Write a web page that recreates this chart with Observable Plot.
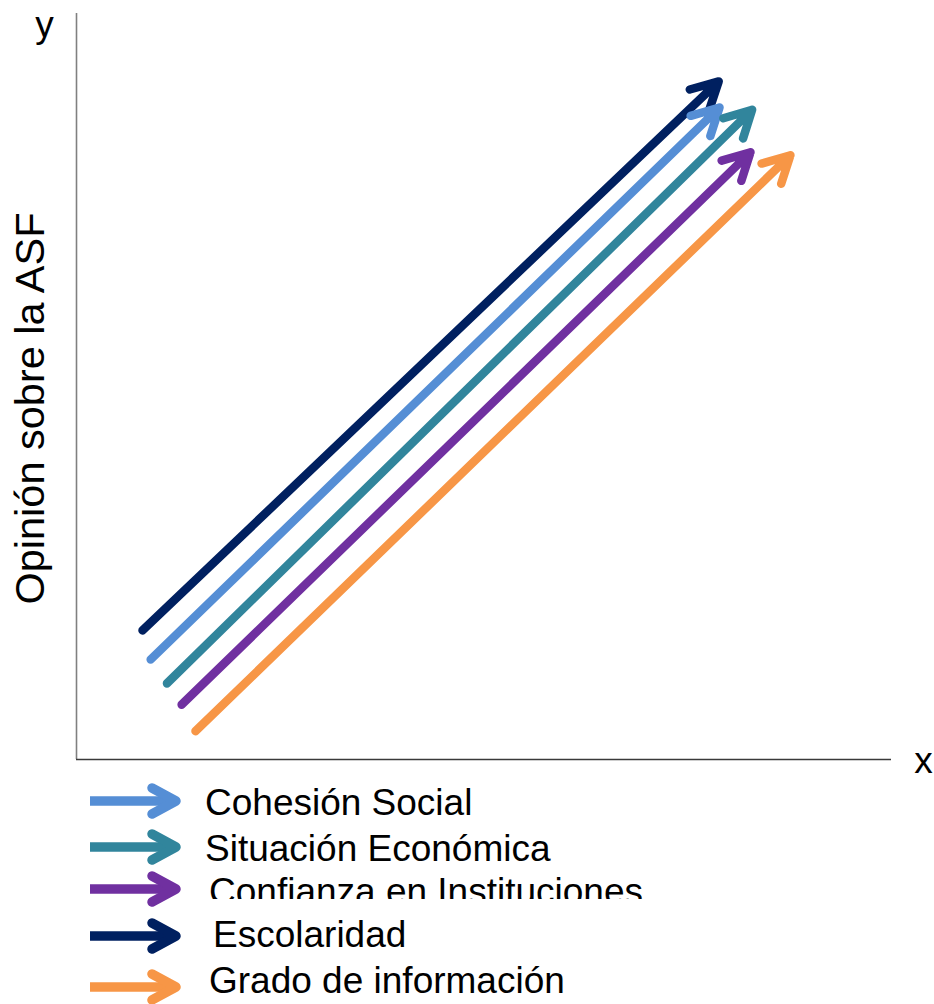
<!DOCTYPE html>
<html><head><meta charset="utf-8">
<script src="https://cdn.jsdelivr.net/npm/d3@7"></script>
<script src="https://cdn.jsdelivr.net/npm/@observablehq/plot@0.6"></script>
<style>
html,body{margin:0;padding:0;background:#fff;}
#chart{position:relative;width:934px;height:1004px;font-family:"Liberation Sans",Arial,sans-serif;}
#chart svg{display:block;}
#legend{position:absolute;left:0;top:775px;}
</style></head><body><div id="chart"></div>
<script>
// ---- data ----
const factors = ["Escolaridad", "Cohesión Social", "Situación Económica", "Confianza en Instituciones", "Grado de información"];
const colors  = ["#002060", "#558ED5", "#31859C", "#7030A0", "#F79646"];
const tailX = [8.1, 9.1, 11.1, 12.9, 14.6];
const tailY = [17.3, 13.4, 10.2, 7.35, 3.8];
const headX = [78.8, 78.9, 82.9, 82.7, 87.6];
const headY = [90.9, 87.4, 87.1, 81.4, 81.0];
const legendOrder = ["Cohesión Social", "Situación Económica", "Confianza en Instituciones", "Escolaridad", "Grado de información"];
const axisXLabel = "x";
const axisYLabel = "y";
const yTitle = "Opinión sobre la ASF";
const xDomain = [0, 100];
const yDomain = [0, 100];

const rows = factors.map((f, i) => ({factor: f, color: colors[i], x1: tailX[i], y1: tailY[i], x2: headX[i], y2: headY[i]}));
const font = "'Liberation Sans', Arial, sans-serif";

const plot = Plot.plot({
  width: 934,
  height: 775,
  marginLeft: 76,
  marginRight: 43,
  marginTop: 13,
  marginBottom: 16,
  x: {domain: xDomain, axis: null},
  y: {domain: yDomain, axis: null},
  color: {type: "identity"},
  style: {fontFamily: font, background: "white", overflow: "visible"},
  marks: [
    Plot.ruleX([xDomain[0]], {stroke: "#808080", strokeWidth: 1.6}),
    Plot.ruleY([yDomain[0]], {stroke: "#3a3a3a", strokeWidth: 1.6}),
    Plot.arrow(rows, {x1: "x1", y1: "y1", x2: "x2", y2: "y2", stroke: "color", strokeWidth: 8.5, headLength: 5.3, headAngle: 56, strokeOpacity: 1}),
    Plot.text([axisYLabel], {text: d => d, frameAnchor: "top-left", textAnchor: "middle", lineAnchor: "bottom", dx: -32, dy: 23, fontSize: 37, fill: "black"}),
    Plot.text([axisXLabel], {text: d => d, frameAnchor: "bottom-right", textAnchor: "middle", lineAnchor: "bottom", dx: 32, dy: 13, fontSize: 37, fill: "black"}),
    Plot.text([yTitle], {text: d => d, frameAnchor: "left", textAnchor: "middle", lineAnchor: "bottom", rotate: -90, dx: -33, dy: 22, fontSize: 41.5, fill: "black"})
  ]
});
const chart = document.getElementById("chart");
chart.appendChild(plot);

// ---- legend (below the plot) ----
const top0 = 775;
const rowCenter = [801, 847, 889, 936, 987];
const rowBaseline = [815, 861, 904, 947, 993];
const textLeft = [205, 205, 209, 213, 209];
const clipBottom = [null, null, 899, null, null];

const lg = d3.select(chart).append("svg")
  .attr("id", "legend").attr("width", 934).attr("height", 1004 - top0)
  .style("font-family", font);
const defs = lg.append("defs");
legendOrder.forEach((name, k) => {
  const i = factors.indexOf(name);
  const c = rowCenter[k] - top0;
  const g = lg.append("g");
  g.append("path")
    .attr("d", `M90,${c}L175,${c}`)
    .attr("stroke", colors[i]).attr("stroke-width", 9.5).attr("fill", "none").attr("stroke-linecap", "butt");
  g.append("path")
    .attr("d", `M152,${c - 13}L176,${c}L152,${c + 13}`)
    .attr("stroke", colors[i]).attr("stroke-width", 9.5).attr("fill", "none")
    .attr("stroke-linecap", "round").attr("stroke-linejoin", "round");
  const t = g.append("text")
    .attr("x", textLeft[k]).attr("y", rowBaseline[k] - top0)
    .attr("font-size", 37).attr("fill", "black").text(name);
  if (clipBottom[k] != null) {
    const id = "clip" + k;
    defs.append("clipPath").attr("id", id).append("rect")
      .attr("x", 0).attr("y", 0).attr("width", 934).attr("height", clipBottom[k] - top0);
    t.attr("clip-path", `url(#${id})`);
  }
});
</script></body></html>
